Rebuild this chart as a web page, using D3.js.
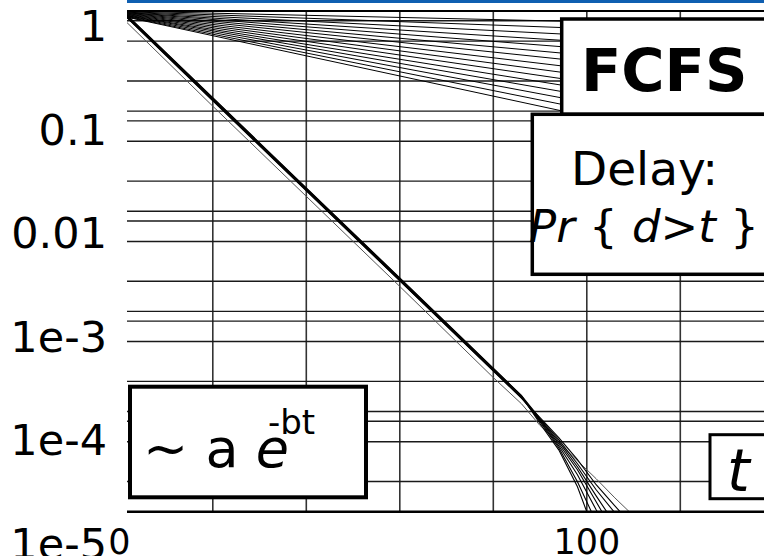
<!DOCTYPE html>
<html>
<head>
<meta charset="utf-8">
<script src="https://cdn.jsdelivr.net/npm/d3@7"></script>
<style>
  html, body { margin: 0; padding: 0; background: #fff; overflow: hidden; }
  svg { display: block; font-family: 'DejaVu Sans', sans-serif; }
</style>
</head>
<body>
<svg id="chart"></svg>
<script>
// time axis
const gridT = [20, 40, 60, 80, 100, 120];
const xTickValues = [0, 100];
const xTickLabels = ['0', '100'];

// probability axis (log)
const gridP = [1.6, 1, 0.4, 0.2, 0.16, 0.1, 0.04, 0.02, 0.016, 0.01,
    0.004, 0.002, 0.0016, 0.001, 4e-4, 2e-4, 1.6e-4, 1e-4, 4e-5];
const yTickValues = [1, 0.1, 0.01, 1e-3, 1e-4, 1e-5];
const yTickLabels = ['1', '0.1', '0.01', '1e-3', '1e-4', '1e-5'];

// fan of slowly decaying curves, value at fanT[0] and fanT[1]
const fanT = [1.5, 96];
const fanStart = [1.99, 1.97, 1.95, 1.93, 1.92, 1.90, 1.88, 1.86, 1.84, 1.82, 1.80, 1.79, 1.77, 1.75, 1.74];
const fanEnd = [1.58, 1.36, 1.17, 1.01, 0.87, 0.75, 0.65, 0.556, 0.479, 0.413, 0.355, 0.306, 0.264, 0.227, 0.195];

// FCFS delay runs Pr{d>t}, sampled at delayT
const delayT = [0, 20, 40, 60, 80, 86, 90, 94, 98, 102, 106, 110];
const delayRuns = [
    [2.14, 0.269, 0.0339, 4.27e-3, 5.37e-4, 2.88e-4, 1.51e-4, 8.3e-5, 3.55e-5, 1.12e-5, 5e-6, 2.5e-6],
    [2.10, 0.263, 0.0331, 4.17e-3, 5.25e-4, 2.82e-4, 1.58e-4, 8.7e-5, 3.98e-5, 1.58e-5, 6e-6, 3e-6],
    [2.05, 0.257, 0.0324, 4.07e-3, 5.13e-4, 2.75e-4, 1.62e-4, 9.1e-5, 4.68e-5, 2.09e-5, 1e-5, 5e-6],
    [2.12, 0.266, 0.0335, 4.22e-3, 5.31e-4, 2.85e-4, 1.66e-4, 9.55e-5, 5.25e-5, 2.51e-5, 1.2e-5, 6e-6],
    [2.08, 0.260, 0.0328, 4.12e-3, 5.19e-4, 2.79e-4, 1.66e-4, 1.0e-4, 5.62e-5, 2.88e-5, 1.51e-5, 7.5e-6],
    [2.17, 0.272, 0.0343, 4.32e-3, 5.43e-4, 2.90e-4, 1.70e-4, 1.05e-4, 6.03e-5, 3.31e-5, 1.95e-5, 1.12e-5],
    [2.03, 0.254, 0.0320, 4.03e-3, 5.07e-4, 2.72e-4, 1.74e-4, 1.10e-4, 6.61e-5, 3.72e-5, 2.29e-5, 1.41e-5]
];
const delayThin = [1.82, 0.224, 0.0282, 3.55e-3, 4.37e-4, 2.40e-4, 1.45e-4, 9.8e-5, 6.46e-5, 4.27e-5, 2.75e-5, 1.82e-5];

class delayPlot {
    constructor(_config) {
        this.config = {
            parentElement: _config.parentElement,
            containerWidth: 764,
            containerHeight: 556,
            left: 127, right: 764, top: 11, bottom: 511.7
        };
        this.initVis();
    }

    initVis() {
        let vis = this;
        const c = vis.config;

        vis.xScale = d3.scaleLinear().domain([0, 140]).range([119.3, 773.8]);
        vis.yScale = d3.scaleLog().domain([2, 2e-5]).range([c.top, c.bottom]);
        // the tick labels sit on a slightly stretched copy of the axis
        vis.labelScale = d3.scaleLog().domain([1, 1e-5]).range([41.2, 558.7]);

        vis.svg = d3.select(c.parentElement)
            .attr('width', c.containerWidth)
            .attr('height', c.containerHeight);

        vis.svg.append('clipPath').attr('id', 'plotClip')
            .append('rect')
            .attr('x', c.left).attr('y', c.top)
            .attr('width', c.right - c.left).attr('height', c.bottom - c.top);

        // blue strip on top
        vis.svg.append('rect')
            .attr('x', c.left).attr('y', 0)
            .attr('width', c.right - c.left).attr('height', 3)
            .attr('fill', '#0f5fb1');

        vis.grid = vis.svg.append('g');
        vis.chart = vis.svg.append('g').attr('clip-path', 'url(#plotClip)');
        vis.frame = vis.svg.append('g');
        vis.notes = vis.svg.append('g');
        vis.labels = vis.svg.append('g');

        vis.renderVis();
    }

    renderVis() {
        let vis = this;
        const c = vis.config;

        vis.grid.selectAll('.vgrid')
            .data(gridT)
            .join('line')
            .attr('class', 'vgrid')
            .attr('x1', d => vis.xScale(d)).attr('x2', d => vis.xScale(d))
            .attr('y1', c.top).attr('y2', c.bottom)
            .attr('stroke', '#333').attr('stroke-width', 1.6);

        vis.grid.selectAll('.hgrid')
            .data(gridP)
            .join('line')
            .attr('class', 'hgrid')
            .attr('x1', c.left).attr('x2', c.right)
            .attr('y1', d => vis.yScale(d)).attr('y2', d => vis.yScale(d))
            .attr('stroke', '#1a1a1a').attr('stroke-width', 1.4);

        const line = d3.line()
            .x(d => vis.xScale(d[0]))
            .y(d => vis.yScale(d[1]));

        // fan
        vis.chart.selectAll('.fan')
            .data(fanStart.map((s, i) => [[fanT[0], s], [fanT[1], fanEnd[i]]]))
            .join('path')
            .attr('class', 'fan')
            .attr('d', line)
            .attr('fill', 'none')
            .attr('stroke', '#000').attr('stroke-width', 1);

        vis.chart.append('path')
            .datum(delayT.map((t, i) => [t, delayThin[i]]))
            .attr('d', line)
            .attr('fill', 'none')
            .attr('stroke', '#555').attr('stroke-width', 1);

        vis.chart.selectAll('.run')
            .data(delayRuns.map(r => delayT.map((t, i) => [t, r[i]])))
            .join('path')
            .attr('class', 'run')
            .attr('d', line)
            .attr('fill', 'none')
            .attr('stroke', '#000').attr('stroke-width', 1.1);

        // frame: top edge and time axis
        vis.frame.append('line')
            .attr('x1', c.left).attr('x2', c.right)
            .attr('y1', vis.yScale(2)).attr('y2', vis.yScale(2))
            .attr('stroke', '#000').attr('stroke-width', 2.2);
        vis.frame.append('line')
            .attr('x1', c.left).attr('x2', c.right)
            .attr('y1', vis.yScale(2e-5)).attr('y2', vis.yScale(2e-5))
            .attr('stroke', '#000').attr('stroke-width', 2.6);

        // annotation boxes
        const box = (x, y, w, h, sw) => vis.notes.append('rect')
            .attr('x', x).attr('y', y).attr('width', w).attr('height', h)
            .attr('fill', '#fff').attr('stroke', '#000').attr('stroke-width', sw);

        box(561.7, 19, 220, 95.3, 3.5);
        box(532.3, 114.3, 250, 160, 3.5);
        box(130, 386.7, 236, 110.6, 4);
        box(710, 434.7, 80, 64, 3);

        vis.notes.append('text')
            .attr('x', 581).attr('y', 90.7)
            .attr('font-size', 59).attr('font-weight', 'bold')
            .text('FCFS');

        vis.notes.append('text')
            .attr('x', 571).attr('y', 185)
            .attr('font-size', 47)
            .text('Delay:');

        const pr = vis.notes.append('text')
            .attr('x', 529).attr('y', 241.7)
            .attr('font-size', 45);
        [['Pr', true], [' { ', false], ['d', true], ['>', false], ['t', true], [' }', false]]
            .forEach(([s, it]) => pr.append('tspan')
                .attr('font-style', it ? 'italic' : 'normal')
                .text(s));

        const ex = vis.notes.append('text')
            .attr('x', 143).attr('y', 467.3)
            .attr('font-size', 54);
        ex.append('tspan').text('~ a ');
        ex.append('tspan').attr('font-style', 'italic').text('e');
        vis.notes.append('text')
            .attr('x', 268).attr('y', 434)
            .attr('font-size', 34)
            .text('-bt');

        vis.notes.append('text')
            .attr('x', 727).attr('y', 490.7)
            .attr('font-size', 58).attr('font-style', 'italic')
            .text('t');

        // tick labels
        vis.labels.selectAll('.ylab')
            .data(yTickValues)
            .join('text')
            .attr('class', 'ylab')
            .attr('x', 107)
            .attr('y', d => vis.labelScale(d))
            .attr('text-anchor', 'end')
            .attr('font-size', 43)
            .text((d, i) => yTickLabels[i]);

        vis.labels.selectAll('.xlab')
            .data(xTickValues)
            .join('text')
            .attr('class', 'xlab')
            .attr('x', d => vis.xScale(d))
            .attr('y', 554)
            .attr('text-anchor', 'middle')
            .attr('font-size', 35)
            .text((d, i) => xTickLabels[i]);
    }
}

new delayPlot({ parentElement: '#chart' });
</script>
</body>
</html>
